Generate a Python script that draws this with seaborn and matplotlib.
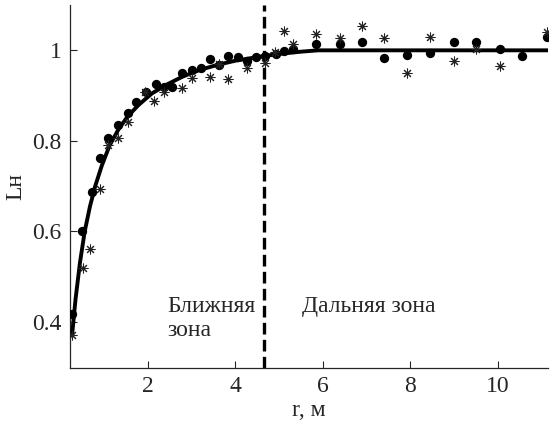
import numpy as np
import pandas as pd
import seaborn as sns
import matplotlib.pyplot as plt
from matplotlib import font_manager

# measured points (circles)
r_dots = [0.26, 0.49, 0.72, 0.90, 1.10, 1.31, 1.56, 1.74, 1.97, 2.18, 2.38, 2.56, 2.79, 3.02,
          3.22, 3.43, 3.63, 3.84, 4.07, 4.27, 4.48, 4.68, 4.93, 5.11, 5.32, 5.84, 6.39,
          6.89, 7.41, 7.94, 8.46, 9.01, 9.51, 10.06, 10.56, 11.13]
L_dots = [0.417, 0.600, 0.688, 0.761, 0.806, 0.836, 0.861, 0.885, 0.907, 0.925, 0.920, 0.918,
          0.949, 0.956, 0.962, 0.980, 0.967, 0.987, 0.985, 0.976, 0.985, 0.987, 0.991, 0.998,
          1.002, 1.015, 1.013, 1.018, 0.982, 0.989, 0.993, 1.018, 1.018, 1.002, 0.987, 1.029]

# measured points (asterisks)
r_stars = [0.28, 0.51, 0.69, 0.90, 1.10, 1.31, 1.54, 1.95, 2.15, 2.38, 2.79, 3.02, 3.43, 3.63,
           3.84, 4.27, 4.68, 4.91, 5.11, 5.32, 5.84, 6.39, 6.89, 7.41, 7.94, 8.46, 9.01,
           9.51, 10.06, 11.13]
L_stars = [0.370, 0.520, 0.560, 0.693, 0.790, 0.806, 0.841, 0.909, 0.887, 0.907, 0.916, 0.938,
           0.940, 0.969, 0.936, 0.960, 0.973, 0.996, 1.042, 1.015, 1.035, 1.027, 1.053, 1.027,
           0.951, 1.029, 0.976, 1.004, 0.965, 1.040]

# approximating curve
r_fit = [0.27, 0.35, 0.45, 0.56, 0.68, 0.80, 0.95, 1.13, 1.33, 1.55, 1.80, 2.10, 2.45, 2.80,
         3.20, 3.60, 4.00, 4.50, 5.00, 5.50, 5.90, 11.15]
L_fit = [0.37, 0.45, 0.53, 0.60, 0.655, 0.70, 0.745, 0.79, 0.825, 0.855, 0.88, 0.905, 0.925,
         0.942, 0.957, 0.968, 0.977, 0.985, 0.992, 0.997, 1.0, 1.0]

r_boundary = 4.67
yticks = [0.4, 0.6, 0.8, 1.0]
ytick_labels = ['0.4', '0.6', '0.8', '1']
xticks = [2, 4, 6, 8, 10]

# Times-like serif: Liberation Serif if present, else matplotlib's bundled STIX
names = {f.name for f in font_manager.fontManager.ttflist}
families = [n for n in ['Liberation Serif', 'STIXGeneral'] if n in names] + ['DejaVu Serif']

sns.set_style("ticks")
plt.rcParams['font.family'] = families
plt.rcParams['xtick.direction'] = 'in'
plt.rcParams['ytick.direction'] = 'in'

fig = plt.figure(figsize=(5.5, 4.23), dpi=100)
ax = fig.add_axes([0.127, 0.13, 0.869, 0.858])

fit_df = pd.DataFrame({'r': r_fit, 'L': L_fit})
sns.lineplot(data=fit_df, x='r', y='L', color='black', linewidth=2.8, ax=ax, zorder=3)

dots_df = pd.DataFrame({'r': r_dots, 'L': L_dots})
sns.scatterplot(data=dots_df, x='r', y='L', color='black', s=45, marker='o',
                edgecolor='black', linewidth=0, ax=ax, zorder=4)

stars_df = pd.DataFrame({'r': r_stars, 'L': L_stars})
ax.plot(stars_df['r'], stars_df['L'], linestyle='none', marker=(8, 2, 0),
        markersize=7, markeredgewidth=0.75, color='#222222', zorder=4)

ax.axvline(r_boundary, color='black', linestyle=(0, (3.5, 1.6)), linewidth=2.4, zorder=2)

ax.set_xlim(0.22, 11.15)
ax.set_ylim(0.298, 1.10)
ax.set_xticks(xticks)
ax.set_yticks(yticks)
ax.set_yticklabels(ytick_labels)
ax.tick_params(labelsize=17, length=5, width=0.8, pad=6)
ax.set_xlabel('r, м', fontsize=17, labelpad=2)
ax.set_ylabel('Lн', fontsize=17)
ax.yaxis.set_label_coords(-0.09, 0.5)
sns.despine(ax=ax)
for s in ['left', 'bottom']:
    ax.spines[s].set_linewidth(0.9)

ax.text(2.45, 0.407, 'Ближняя\nзона', fontsize=17, ha='left', va='center', linespacing=1.2)
ax.text(5.53, 0.433, 'Дальняя зона', fontsize=17, ha='left', va='center')

fig.savefig('out.png', dpi=100)
